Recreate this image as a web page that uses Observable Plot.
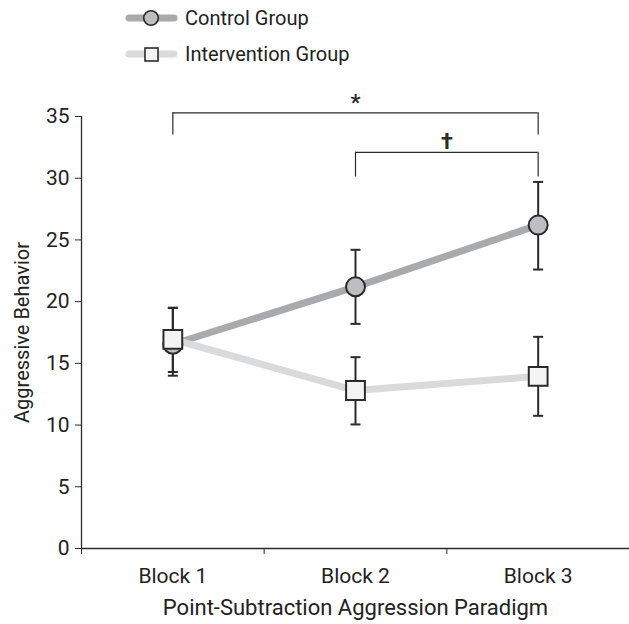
<!DOCTYPE html>
<html><head><meta charset="utf-8">
<script src="https://cdn.jsdelivr.net/npm/d3@7"></script>
<script src="https://cdn.jsdelivr.net/npm/@observablehq/plot@0.6"></script>
<style>
body{margin:0;background:#fff;font-family:Roboto,"DejaVu Sans Condensed",sans-serif;color:#222;}
#legend{position:relative;height:80px;width:629px;}
.row{position:absolute;left:120px;height:36px;display:flex;align-items:center;}
.row span{font-size:20px;margin-left:7px;}
#chart svg{display:block;}
</style></head>
<body>
<div id="legend">
  <div class="row" style="top:0px">
    <svg width="58" height="36"><line x1="9" x2="54" y1="18" y2="18" stroke="#a9aaad" stroke-width="7" stroke-linecap="round"/><circle cx="31" cy="18" r="7.3" fill="#bdbec1" stroke="#2b2b2b" stroke-width="1.6"/></svg>
    <span>Control Group</span>
  </div>
  <div class="row" style="top:36px">
    <svg width="58" height="36"><line x1="9" x2="54" y1="18" y2="18" stroke="#d9dadb" stroke-width="7" stroke-linecap="round"/><rect x="25" y="12" width="13" height="13" fill="#f4f4f4" stroke="#2b2b2b" stroke-width="1.6"/></svg>
    <span>Intervention Group</span>
  </div>
</div>
<div id="chart"></div>
<script>
const blocks = ["Block 1", "Block 2", "Block 3"];
const controlMean = [16.55, 21.2, 26.2];
const controlLo = [14.0, 18.2, 22.6];
const controlHi = [19.5, 24.2, 29.7];
const interventionMean = [16.95, 12.8, 13.95];
const interventionLo = [14.3, 10.05, 10.75];
const interventionHi = [19.5, 15.5, 17.15];
const yTicks = [0, 5, 10, 15, 20, 25, 30, 35];
const xLabel = "Point-Subtraction Aggression Paradigm";
const yLabel = "Aggressive Behavior";
// significance brackets: from block index to block index, bar level, leg end level, symbol
const brackets = [
  {from: 1, to: 3, top: 35.3, leg: 33.5, symbol: "*", symbolY: 36.1},
  {from: 2, to: 3, top: 32.1, leg: 30.1, symbol: "†", symbolY: 32.9}
];

const control = blocks.map((b, i) => ({x: i + 1, m: controlMean[i], lo: controlLo[i], hi: controlHi[i]}));
const intervention = blocks.map((b, i) => ({x: i + 1, m: interventionMean[i], lo: interventionLo[i], hi: interventionHi[i]}));
const errs = [...control, ...intervention];
const caps = errs.flatMap(d => [{x: d.x, y: d.lo}, {x: d.x, y: d.hi}]);
const legs = brackets.flatMap(d => [{x: d.from, y1: d.leg, y2: d.top}, {x: d.to, y1: d.leg, y2: d.top}]);

// short horizontal line symbol for error-bar caps
const capSymbol = {draw(ctx) { ctx.moveTo(-5, 0); ctx.lineTo(5, 0); }};

const ink = "#2b2b2b";
const font = 'Roboto,"DejaVu Sans Condensed",sans-serif';
const chart = Plot.plot({
  width: 629,
  height: 544,
  marginLeft: 81,
  marginRight: 0,
  marginTop: 36,
  marginBottom: 76,
  style: {fontFamily: font, fontSize: "21px", color: "#222", background: "#fff", overflow: "visible"},
  x: {type: "linear", domain: [0.5, 3.5]},
  y: {type: "linear", domain: [0, 35]},
  marks: [
    Plot.axisY({ticks: yTicks, tickSize: 6, tickPadding: 6, label: null, fontSize: 21, stroke: ink}),
    Plot.axisX({ticks: [0.5, 1.5, 2.5], tickSize: 6, tickFormat: () => "", label: null, stroke: ink}),
    Plot.axisX({ticks: [1, 2, 3], tickSize: 0, tickPadding: 20, tickFormat: i => blocks[i - 1], label: null, fontSize: 21}),
    Plot.ruleX([0.5], {y1: 0, y2: 35, stroke: ink, strokeWidth: 1.3}),
    Plot.ruleY([0], {x1: 0.5, x2: 3.5, stroke: ink, strokeWidth: 1.3}),
    Plot.text([xLabel], {frameAnchor: "bottom", lineAnchor: "middle", textAnchor: "middle", dy: 59, fontSize: 22, fill: "#222"}),
    Plot.text([yLabel], {frameAnchor: "left", lineAnchor: "middle", textAnchor: "middle", dx: -59, rotate: -90, fontSize: 20, fill: "#222"}),
    // brackets
    Plot.ruleY(brackets, {x1: "from", x2: "to", y: "top", stroke: ink, strokeWidth: 1.2}),
    Plot.ruleX(legs, {x: "x", y1: "y1", y2: "y2", stroke: ink, strokeWidth: 1.2}),
    Plot.text(brackets, {x: d => (d.from + d.to) / 2, y: "symbolY", text: "symbol", fontSize: 22, fontWeight: "bold", fill: ink}),
    // lines
    Plot.line(control, {x: "x", y: "m", stroke: "#a9aaad", strokeWidth: 7}),
    Plot.line(intervention, {x: "x", y: "m", stroke: "#d9dadb", strokeWidth: 7}),
    // error bars
    Plot.ruleX(errs, {x: "x", y1: "lo", y2: "hi", stroke: ink, strokeWidth: 2}),
    Plot.dot(caps, {x: "x", y: "y", symbol: capSymbol, fill: "none", stroke: ink, strokeWidth: 2}),
    Plot.dot(control, {x: "x", y: "m", r: 9.5, fill: "#bdbec1", stroke: ink, strokeWidth: 2, symbol: "circle"}),
    Plot.dot(intervention, {x: "x", y: "m", r: 10.6, fill: "#f4f4f4", stroke: ink, strokeWidth: 2, symbol: "square"})
  ]
});
document.getElementById("chart").appendChild(chart);
</script>
</body></html>
